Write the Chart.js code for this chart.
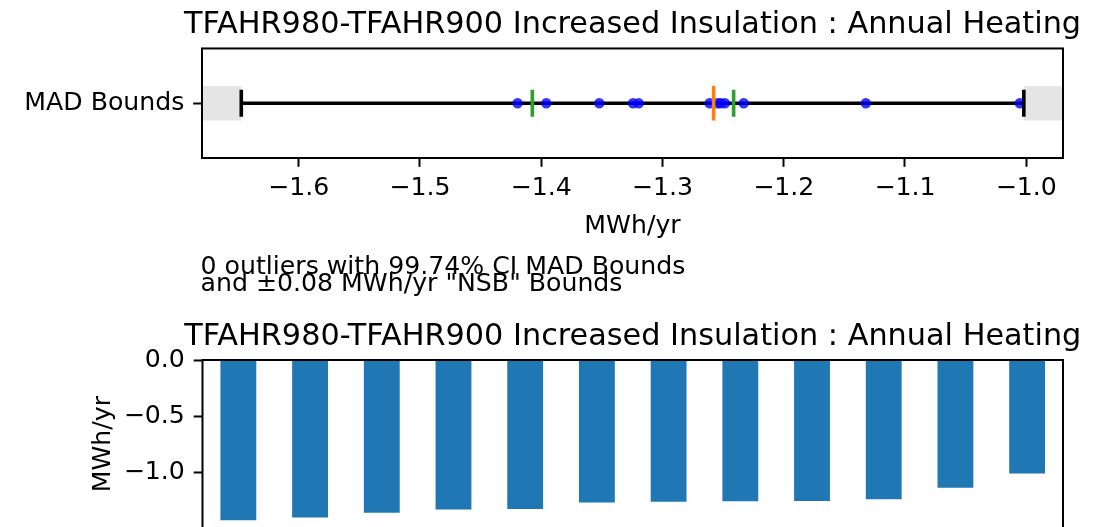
<!DOCTYPE html>
<html>
<head>
<meta charset="utf-8">
<script src="https://cdn.jsdelivr.net/npm/chart.js@4.4.1/dist/chart.umd.min.js"></script>
<style>
    html, body { margin: 0; padding: 0; background: #fff; }
    #page { position: relative; width: 1107px; height: 527px; overflow: hidden; background: #fff; }
    canvas { position: absolute; left: 0; }
</style>
</head>
<body>
<div id="page">
    <canvas id="stripchart" width="1107" height="300" style="top:0"></canvas>
    <canvas id="barchart" width="1107" height="260" style="top:300px"></canvas>
</div>
<script>
// values (MWh/yr), sorted like the bars
const heating = [-1.4195, -1.3958, -1.3521, -1.3243, -1.3196, -1.2611, -1.2545, -1.2520, -1.2485, -1.2330, -1.1323, -1.0053];
const barLabels = ['1', '2', '3', '4', '5', '6', '7', '8', '9', '10', '11', '12'];
const madBounds = [-1.6473, -1.0020];
const greenMarks = [-1.4073, -1.2413];
const medianMark = [-1.2578];
const stripTicks = [-1.6, -1.5, -1.4, -1.3, -1.2, -1.1, -1.0];
const stripRange = [-1.6797, -0.9697];
const barTicks = [0, -0.5, -1.0];
const barRange = [-1.4905, 0];
const titleText = 'TFAHR980-TFAHR900 Increased Insulation : Annual Heating';
const noteLines = ['0 outliers with 99.74% CI MAD Bounds', 'and \u00b10.08 MWh/yr "NSB" Bounds'];

Chart.defaults.font.family = '"DejaVu Sans", sans-serif';
Chart.defaults.font.size = 25.2;
Chart.defaults.color = '#000';

function fmt(v) {
    return (v < 0 ? '\u2212' : '') + Math.abs(v).toFixed(1);
}

const tickGrid = { drawOnChartArea: false, drawTicks: true, tickLength: 8.8, tickWidth: 2, tickColor: '#000' };

// box round the plot area plus a title centred over it (no width squeeze)
const framePlugin = {
    id: 'frame',
    afterDatasetsDraw(chart) {
        const a = chart.chartArea;
        const ctx = chart.ctx;
        ctx.save();
        ctx.strokeStyle = '#000';
        ctx.lineWidth = 2;
        ctx.strokeRect(a.left, a.top, a.right - a.left, a.bottom - a.top);
        ctx.fillStyle = '#000';
        ctx.font = '30.3px "DejaVu Sans"';
        ctx.textAlign = 'center';
        ctx.textBaseline = 'alphabetic';
        ctx.fillText(titleText, (a.left + a.right) / 2, a.top - 15);
        ctx.restore();
    }
};

// grey bands outside the bounds, drawn with the chart's scales
const bandPlugin = {
    id: 'bands',
    beforeDatasetsDraw(chart) {
        const a = chart.chartArea;
        const ctx = chart.ctx;
        const yc = chart.scales.y.getPixelForValue(0);
        const lo = chart.scales.x.getPixelForValue(madBounds[0]);
        const hi = chart.scales.x.getPixelForValue(madBounds[1]);
        ctx.save();
        ctx.fillStyle = '#e5e5e5';
        ctx.fillRect(a.left, yc - 17.3, lo - a.left, 34.6);
        ctx.fillRect(hi, yc - 17.3, a.right - hi, 34.6);
        ctx.restore();
    }
};

const notePlugin = {
    id: 'notes',
    afterDraw(chart) {
        const ctx = chart.ctx;
        ctx.save();
        ctx.fillStyle = '#000';
        ctx.font = '25.2px "DejaVu Sans"';
        ctx.textBaseline = 'alphabetic';
        ctx.textAlign = 'left';
        ctx.fillText(noteLines[0], chart.chartArea.left - 1.5, 274);
        ctx.fillText(noteLines[1], chart.chartArea.left - 1.5, 291);
        ctx.restore();
    }
};

function onRow(values) {
    return values.map(v => ({ x: v, y: 'MAD Bounds' }));
}

function markSet(values, color, radius, order) {
    return {
        data: onRow(values),
        pointStyle: 'line',
        pointRotation: 90,
        pointRadius: radius,
        pointBorderColor: color,
        pointBorderWidth: 3.6,
        order: order
    };
}

new Chart('stripchart', {
    type: 'scatter',
    data: {
        datasets: [
            {
                data: onRow(madBounds),
                showLine: true,
                borderColor: '#000',
                borderWidth: 3.6,
                pointRadius: 0,
                order: 4
            },
            {
                data: onRow(heating),
                pointRadius: 5.2,
                pointBackgroundColor: 'rgba(0,0,255,0.8)',
                pointBorderWidth: 0,
                order: 3
            },
            markSet(madBounds, '#000', 13.4, 2),
            markSet(greenMarks, '#2ca02c', 13.4, 1),
            markSet(medianMark, '#ff7f0e', 17.3, 0)
        ]
    },
    options: {
        responsive: false,
        animation: false,
        events: [],
        layout: { padding: { top: 48.46, left: 0, right: 44, bottom: 42 } },
        plugins: {
            legend: { display: false },
            tooltip: { enabled: false },
            title: { display: false }
        },
        scales: {
            x: {
                type: 'linear',
                min: stripRange[0],
                max: stripRange[1],
                afterBuildTicks: s => { s.ticks = stripTicks.map(v => ({ value: v })); },
                afterFit: s => { s.height = 100; },
                ticks: { callback: fmt, padding: 7.0, maxRotation: 0, autoSkip: false },
                grid: tickGrid,
                border: { display: false },
                title: { display: true, text: 'MWh/yr', padding: { top: 0, bottom: 16.7 } }
            },
            y: {
                type: 'category',
                labels: ['MAD Bounds'],
                offset: true,
                afterFit: s => { s.width = 202; },
                ticks: { padding: 8.8 },
                grid: tickGrid,
                border: { display: false }
            }
        }
    },
    plugins: [bandPlugin, framePlugin, notePlugin]
});

new Chart('barchart', {
    type: 'bar',
    data: {
        labels: barLabels,
        datasets: [{
            data: heating,
            backgroundColor: '#1f77b4',
            borderWidth: 0,
            barPercentage: 0.5,
            categoryPercentage: 1.0
        }]
    },
    options: {
        responsive: false,
        animation: false,
        events: [],
        layout: { padding: { top: 60, left: 0, right: 44, bottom: 31.7 } },
        plugins: {
            legend: { display: false },
            tooltip: { enabled: false },
            title: { display: false }
        },
        scales: {
            x: { display: false, offset: true },
            y: {
                type: 'linear',
                min: barRange[0],
                max: barRange[1],
                afterBuildTicks: s => { s.ticks = barTicks.map(v => ({ value: v })); },
                afterFit: s => { s.width = 202.5; },
                ticks: { callback: fmt, padding: 8.8 },
                grid: tickGrid,
                border: { display: false },
                title: { display: true, text: 'MWh/yr', padding: { top: 88.2, bottom: 0 } }
            }
        }
    },
    plugins: [framePlugin]
});
</script>
</body>
</html>
